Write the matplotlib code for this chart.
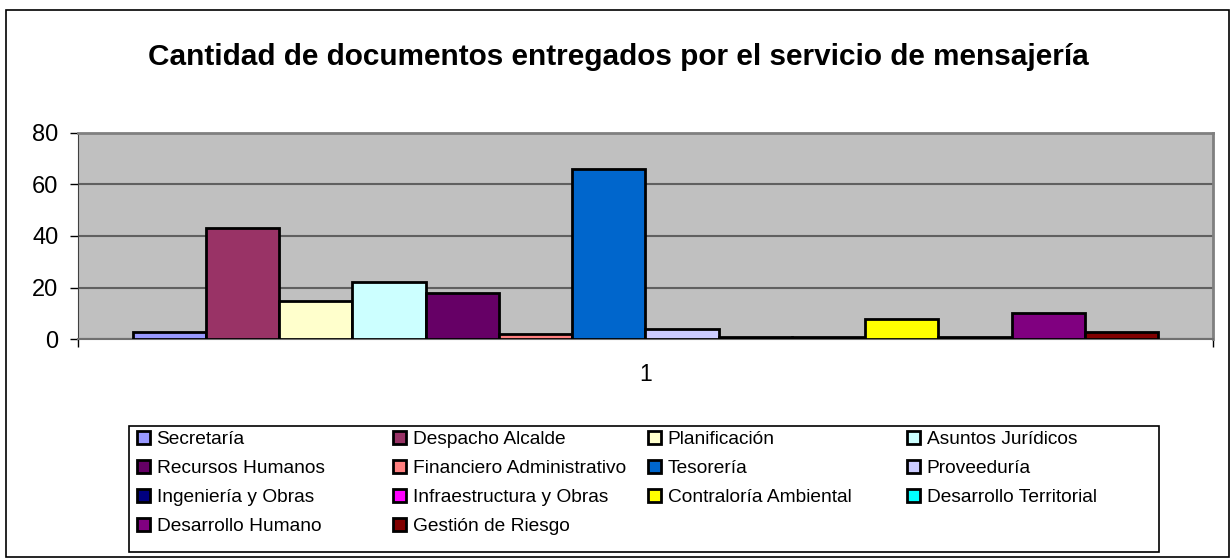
import matplotlib
matplotlib.use("Agg")
import matplotlib.pyplot as plt
from matplotlib.patches import Rectangle

plt.rcParams['font.family'] = ['Liberation Sans', 'DejaVu Sans']

title = "Cantidad de documentos entregados por el servicio de mensajería"
categories = ['1']
series = ['Secretaría', 'Despacho Alcalde', 'Planificación', 'Asuntos Jurídicos',
          'Recursos Humanos', 'Financiero Administrativo', 'Tesorería', 'Proveeduría',
          'Ingeniería y Obras', 'Infraestructura y Obras', 'Contraloría Ambiental',
          'Desarrollo Territorial', 'Desarrollo Humano', 'Gestión de Riesgo']
values = [3, 43, 15, 22, 18, 2, 66, 4, 1, 1, 8, 1, 10, 3]
colors = ['#9999FF', '#993366', '#FFFFCC', '#CCFFFF', '#660066', '#FF8080', '#0066CC',
          '#CCCCFF', '#000080', '#FF00FF', '#FFFF00', '#00FFFF', '#800080', '#800000']
yticks = [0, 20, 40, 60, 80]

W, H = 1231, 558
fig = plt.figure(figsize=(W / 100, H / 100), dpi=100)
fig.patch.set_facecolor('white')

# outer chart border
fig.add_artist(Rectangle((6 / W, 1 - 557 / H), (1229 - 6) / W, (557 - 10) / H,
                         transform=fig.transFigure, fill=False, edgecolor='black', lw=1.2))

fig.text(618 / W, 1 - 57 / H, title, ha='center', va='center',
         fontsize=21.4, fontweight='bold')

ax = fig.add_axes([77.7 / W, 1 - 339.3 / H, (1213 - 77.7) / W, (339.3 - 132.7) / H])
ax.set_facecolor('#C0C0C0')

n = len(series)
handles = []
for i, (name, v, c) in enumerate(zip(series, values, colors)):
    x = i - (n - 1) / 2
    b = ax.bar(x, v, width=1, color=c, edgecolor='black', linewidth=2, label=name, zorder=3)
    handles.append(b)

ax.set_xlim(-7.75, 7.75)
ax.set_ylim(0, 80)
ax.set_yticks(yticks)
ax.yaxis.grid(True, color='#606060', lw=1.5)
ax.set_axisbelow(True)

ax.set_xticks([-7.75, 7.75], labels=['', ''])
ax.set_xticks([0], labels=categories, minor=True)
ax.tick_params(axis='x', which='major', length=6, width=1, color='black')
ax.tick_params(axis='x', which='minor', length=0, pad=17, labelsize=16.5)
ax.tick_params(axis='y', length=6, width=1, color='black', pad=8, labelsize=17)

for s in ['top', 'right']:
    ax.spines[s].set_color('#808080')
    ax.spines[s].set_linewidth(2)
ax.spines['left'].set_color('#404040')
ax.spines['bottom'].set_color('#707070')
ax.spines['bottom'].set_linewidth(1.5)

# legend box
fig.add_artist(Rectangle((129.3 / W, 1 - 552 / H), (1159 - 129.3) / W, (552 - 425.7) / H,
                         transform=fig.transFigure, fill=False, edgecolor='black', lw=1.2))

# legend laid out row by row in 4 equal columns
col_x = [137, 393, 648, 907]
for c in range(4):
    hs = handles[c::4]
    fig.legend(hs, [h.get_label() for h in hs], loc='upper left',
               bbox_to_anchor=(col_x[c] / W, 1 - 431 / H), frameon=False,
               borderpad=0, borderaxespad=0, handlelength=0.7, handleheight=0.7,
               handletextpad=0.32, labelspacing=0.6, fontsize=13.8)

fig.savefig('out.png', dpi=100)
